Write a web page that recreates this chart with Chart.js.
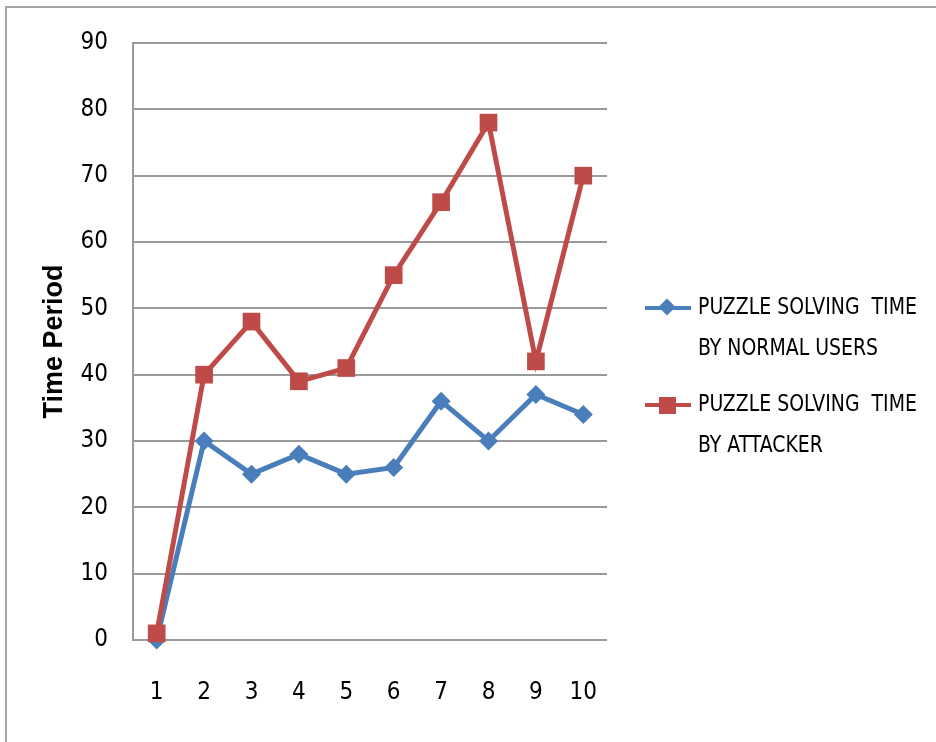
<!DOCTYPE html>
<html>
<head>
<meta charset="utf-8">
<script src="https://cdn.jsdelivr.net/npm/chart.js@4.4.0/dist/chart.umd.min.js"></script>
<style>
  html, body { margin: 0; padding: 0; background: #fff; }
  #wrap { position: relative; width: 936px; height: 742px; overflow: hidden; }
  #frame { position: absolute; left: 5px; top: 6px; right: -10px; bottom: -10px;
           border-left: 2px solid #a6a6a6; border-top: 2px solid #a6a6a6; }
  canvas { position: absolute; left: 0; top: 0; }
  .leg { position: absolute; left: 645px; font-family: "Liberation Sans Narrow", "DejaVu Sans Condensed", sans-serif;
         font-size: 21px; color: #000; }
  .leg .txt { position: absolute; left: 53px; top: 0; white-space: pre; line-height: 37px;
              transform-origin: 0 50%; transform: scaleY(1.12); }
  .leg .ln { position: absolute; left: 0; width: 46px; height: 4px; top: -2px; }
  .leg .mk { position: absolute; }
</style>
</head>
<body>
<div id="wrap">
  <div id="frame"></div>
  <canvas id="c" width="936" height="742"></canvas>
  <div class="leg" id="leg1" style="top:308px;">
    <div class="ln" style="background:#4a7ebb;"></div>
    <div class="mk" style="left:16px;top:-7px;width:12px;height:12px;background:#4a7ebb;transform:rotate(45deg);"></div>
    <div class="txt" style="top:-18px;"><span id="l1a"></span><br><span id="l1b"></span></div>
  </div>
  <div class="leg" id="leg2" style="top:405px;">
    <div class="ln" style="background:#be4b48;"></div>
    <div class="mk" style="left:14px;top:-8px;width:17px;height:17px;background:#be4b48;"></div>
    <div class="txt" style="top:-18px;"><span id="l2a"></span><br><span id="l2b"></span></div>
  </div>
</div>
<script>
const categories = ["1", "2", "3", "4", "5", "6", "7", "8", "9", "10"];
const normalUsers = [0, 30, 25, 28, 25, 26, 36, 30, 37, 34];
const attacker = [1, 40, 48, 39, 41, 55, 66, 78, 42, 70];
const yTicks = [0, 10, 20, 30, 40, 50, 60, 70, 80, 90];
const legendNormal = ["PUZZLE SOLVING  TIME", "BY NORMAL USERS"];
const legendAttacker = ["PUZZLE SOLVING  TIME", "BY ATTACKER"];
const yTitle = "Time Period";

document.getElementById("l1a").textContent = legendNormal[0];
document.getElementById("l1b").textContent = legendNormal[1];
document.getElementById("l2a").textContent = legendAttacker[0];
document.getElementById("l2b").textContent = legendAttacker[1];

const tickFont = { family: "'Liberation Sans Narrow', 'DejaVu Sans Condensed', sans-serif", size: 24 };

new Chart(document.getElementById("c"), {
  type: "line",
  data: {
    labels: categories,
    datasets: [
      {
        label: legendAttacker.join(" "),
        data: attacker,
        borderColor: "#be4b48",
        backgroundColor: "#be4b48",
        borderWidth: 5,
        pointStyle: "rect",
        pointRadius: 12.5,
        pointHoverRadius: 12.5,
        pointBorderWidth: 0,
        tension: 0,
        clip: false,
        order: 0
      },
      {
        label: legendNormal.join(" "),
        data: normalUsers,
        borderColor: "#4a7ebb",
        backgroundColor: "#4a7ebb",
        borderWidth: 5,
        pointStyle: "rectRot",
        pointRadius: 9.5,
        pointHoverRadius: 9.5,
        pointBorderWidth: 0,
        tension: 0,
        clip: false,
        order: 1
      }
    ]
  },
  options: {
    responsive: false,
    animation: false,
    devicePixelRatio: 1,
    layout: { padding: { left: 0, top: 43, right: 329, bottom: 0 } },
    plugins: { legend: { display: false }, tooltip: { enabled: false } },
    scales: {
      x: {
        offset: true,
        grid: { display: false, drawTicks: false },
        border: { display: false },
        ticks: { color: "#000", font: tickFont, padding: 38, maxRotation: 0 },
        afterFit: (s) => { s.height = 102; }
      },
      y: {
        min: 0,
        max: 90,
        afterBuildTicks: (s) => { s.ticks = yTicks.map(v => ({ value: v })); },
        grid: { color: "#9a9a9a", lineWidth: 2, drawTicks: false },
        border: { display: true, color: "#9a9a9a", width: 2 },
        ticks: { color: "#000", font: tickFont, padding: 25 },
        title: {
          display: true,
          text: yTitle,
          color: "#000",
          font: { family: "'Liberation Sans', Arial, sans-serif", size: 27, weight: "bold" },
          padding: { top: 38, bottom: 0 }
        },
        afterFit: (s) => { s.width = 133; }
      }
    }
  }
});
</script>
</body>
</html>
